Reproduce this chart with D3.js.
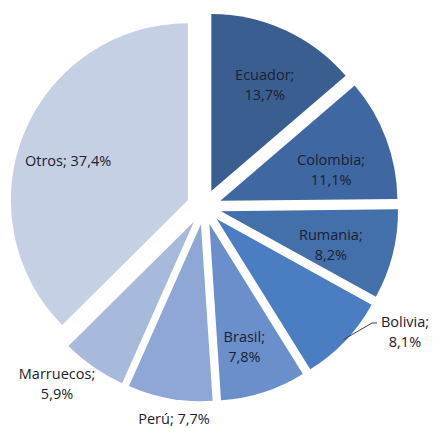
<!DOCTYPE html>
<html><head><meta charset="utf-8">
<script src="https://cdn.jsdelivr.net/npm/d3@7"></script>
<style>
html,body{margin:0;padding:0;background:#fff;}
svg{display:block;}
text{font-family:"Open Sans","Noto Sans",sans-serif;font-size:14.5px;fill:#1a2030;}
</style></head>
<body>
<svg id="chart" width="433" height="428"></svg>
<script>
const categories = ["Ecuador","Colombia","Rumania","Bolivia","Brasil","Perú","Marruecos","Otros"];
const values = [13.7, 11.1, 8.2, 8.1, 7.8, 7.7, 5.9, 37.4];
const valueLabels = ["13,7%","11,1%","8,2%","8,1%","7,8%","7,7%","5,9%","37,4%"];
const colors = ["#3b5e91","#3f68a2","#4370ab","#4a7dc1","#6b8fcb","#8ea7d6","#a8badc","#c5d0e4"];

const W = 433, H = 428;
const cx = 204, cy = 207, R = 177, explode = 17.5;
// label layout: angle offset (deg) and radius for inside labels, absolute anchor for outside ones
const labelLayout = [
  {da: 2,  r: 119},
  {da: 5,  r: 115},
  {da: 3,  r: 115},
  {outside: true, x: 405, y: 322, line: true},
  {da: 2,  r: 128},
  {outside: true, x: 174, y: 419, single: true},
  {outside: true, x: 57, y: 374},
  {da: -4.5, r: 126, single: true}
];

const svg = d3.select("#chart");
const pie = d3.pie().value(d => d).sort(null).startAngle(0).endAngle(2*Math.PI);
const arcs = pie(values);
const arc = d3.arc().innerRadius(0).outerRadius(R);

const g = svg.append("g").attr("transform", `translate(${cx},${cy})`);

function polar(a, r){ return [r*Math.sin(a), -r*Math.cos(a)]; }

arcs.forEach((a, i) => {
  const mid = (a.startAngle + a.endAngle)/2;
  const [ox, oy] = polar(mid, explode);
  const sg = g.append("g").attr("transform", `translate(${ox},${oy})`);
  sg.append("path").attr("d", arc(a)).attr("fill", colors[i]);
  const L = labelLayout[i];
  let lx, ly;
  if (L.outside) {
    lx = L.x - cx; ly = L.y - cy;
    const t = g.append("text").attr("text-anchor","middle");
    if (L.single) {
      t.append("tspan").attr("x", lx).attr("y", ly + 5).text(categories[i] + "; " + valueLabels[i]);
    } else {
      t.append("tspan").attr("x", lx).attr("y", ly + 5).text(categories[i] + ";");
      t.append("tspan").attr("x", lx).attr("y", ly + 25).text(valueLabels[i]);
    }
    if (L.line) {
      const [px, py] = polar(mid, R - 2);
      const ex = px + ox, ey = py + oy;
      g.append("path")
        .attr("d", `M${ex},${ey}L${lx-33},${ly+1}L${lx-28},${ly+1}`)
        .attr("fill","none").attr("stroke","#404040").attr("stroke-width",1);
    }
  } else {
    const [px, py] = polar(mid + L.da*Math.PI/180, L.r);
    lx = px; ly = py;
    const t = sg.append("text").attr("text-anchor","middle");
    if (L.single) {
      t.append("tspan").attr("x", lx).attr("y", ly + 5).text(categories[i] + "; " + valueLabels[i]);
    } else {
      t.append("tspan").attr("x", lx).attr("y", ly - 5).text(categories[i] + ";");
      t.append("tspan").attr("x", lx).attr("y", ly + 15).text(valueLabels[i]);
    }
  }
});
</script>
</body></html>
